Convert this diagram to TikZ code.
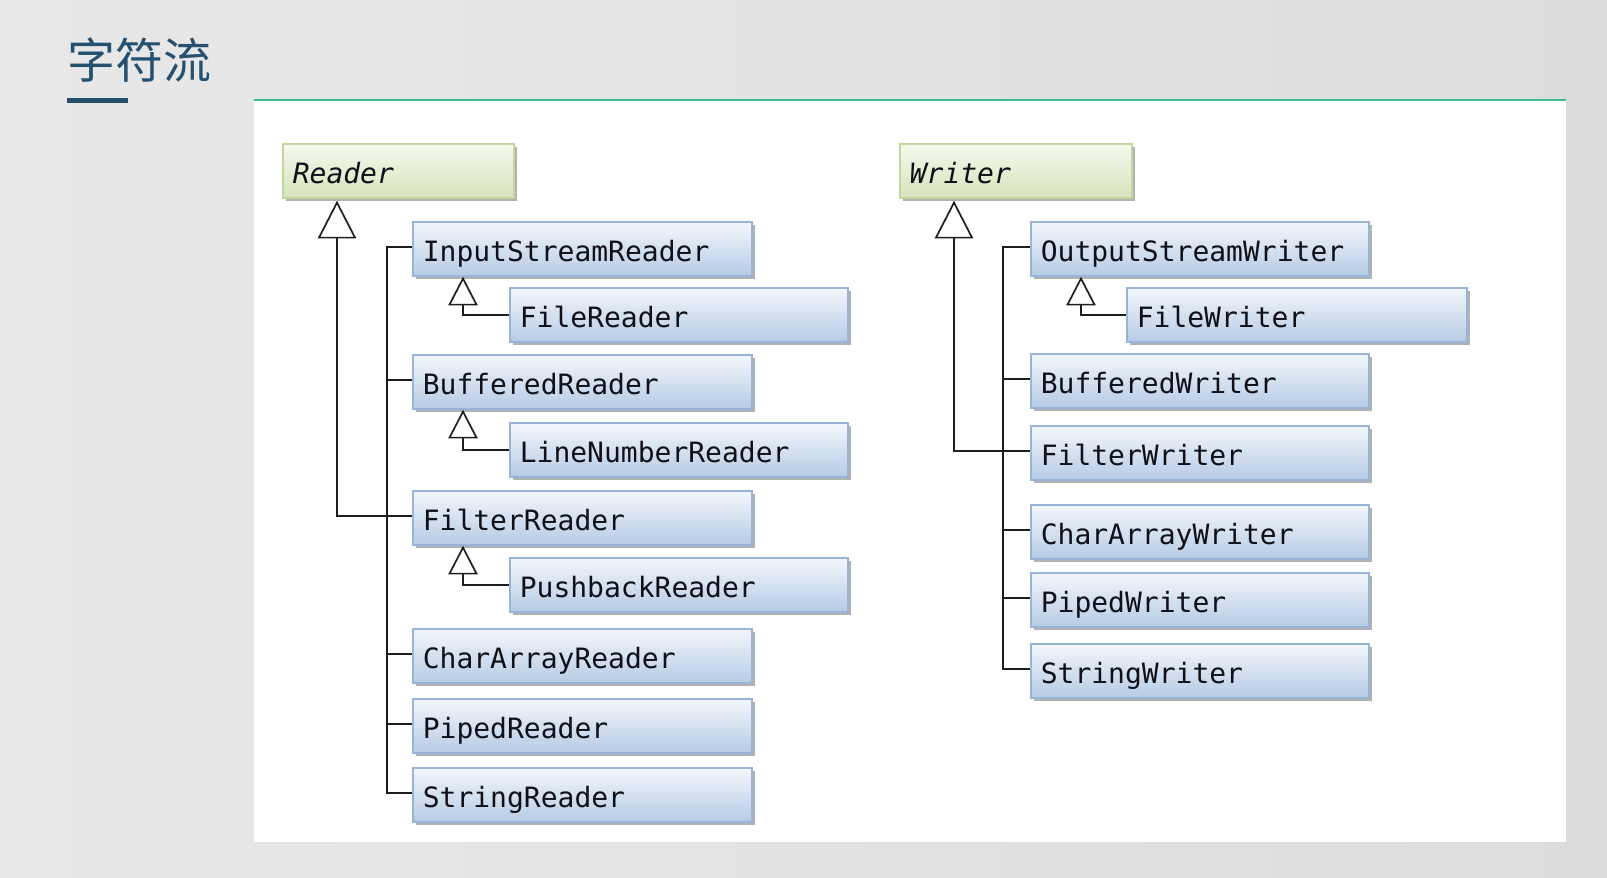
\documentclass[tikz,border=0pt]{standalone}
\usepackage{fontspec}
\newfontfamily\codefont{DejaVu Sans Mono}
\newfontfamily\cjk{Noto Sans CJK SC}
\usetikzlibrary{calc,shadows}
\definecolor{boxtop}{HTML}{F3F7FC}
\definecolor{boxbot}{HTML}{B6CBE4}
\definecolor{boxline}{HTML}{98B5D9}
\definecolor{grtop}{HTML}{F6F9EE}
\definecolor{grbot}{HTML}{D6E3BC}
\definecolor{grline}{HTML}{C3D69B}
\definecolor{titleblue}{HTML}{25506F}
\definecolor{accentteal}{HTML}{3DBB98}
\definecolor{bgl}{HTML}{E8E8E8}
\definecolor{bgr}{HTML}{DCDCDC}
\definecolor{linkcol}{HTML}{1E1E1E}
\definecolor{textcol}{HTML}{101018}
\begin{document}
\begin{tikzpicture}[x=0.5pt,y=-0.5pt,
  cls/.style={draw=boxline, line width=0.8pt, top color=boxtop, bottom color=boxbot,
    anchor=north west, minimum height=27pt, inner xsep=5pt, inner ysep=0pt,
    align=left, text height=13pt, text depth=0pt, text=textcol,
    font=\codefont\fontsize{14}{16}\selectfont,
    drop shadow={shadow xshift=1.8pt, shadow yshift=-1.8pt, fill=black!55, opacity=0.55}},
  abscls/.style={cls, draw=grline, top color=grtop, bottom color=grbot,
    font=\codefont\itshape\fontsize{14}{16}\selectfont},
  link/.style={draw=linkcol, line width=1.1pt},
  tri/.style={draw=linkcol, fill=white, line width=0.85pt, line join=miter},
]
\useasboundingbox (0,0) rectangle (1607,878);
% background
\fill[left color=bgl, right color=bgr] (0,0) rectangle (1607,878);
\fill[white] (254,101) rectangle (1566,842);
\draw[accentteal, line width=1pt] (254,100) -- (1566,100);
\node[font=\cjk\fontsize{24}{24}\selectfont, text=titleblue, inner sep=0pt] (title) at (140,60) {字符流};
\fill[titleblue] (67,98) rectangle (128,103);

% Reader hierarchy
\node[abscls, text width=105.5pt] (reader) at (282,143) {Reader};
\node[cls, text width=159.5pt] (isr) at (412,221) {InputStreamReader};
\node[cls, text width=159pt] (fr) at (509,287) {FileReader};
\node[cls, text width=159.5pt] (br) at (412,354) {BufferedReader};
\node[cls, text width=159pt] (lnr) at (509,422) {LineNumberReader};
\node[cls, text width=159.5pt] (filr) at (412,490) {FilterReader};
\node[cls, text width=159pt] (pbr) at (509,557) {PushbackReader};
\node[cls, text width=159.5pt] (car) at (412,628) {CharArrayReader};
\node[cls, text width=159.5pt] (pr) at (412,698) {PipedReader};
\node[cls, text width=159.5pt] (sr) at (412,767) {StringReader};

% Writer hierarchy
\node[abscls, text width=106pt] (writer) at (899,143) {Writer};
\node[cls, text width=159pt] (osw) at (1030,221) {OutputStreamWriter};
\node[cls, text width=160pt] (fw) at (1126,287) {FileWriter};
\node[cls, text width=159pt] (bw) at (1030,353) {BufferedWriter};
\node[cls, text width=159pt] (flw) at (1030,425) {FilterWriter};
\node[cls, text width=159pt] (caw) at (1030,504) {CharArrayWriter};
\node[cls, text width=159pt] (pw) at (1030,572) {PipedWriter};
\node[cls, text width=159pt] (sw) at (1030,643) {StringWriter};

% Reader connectors
\draw[link] ([yshift=1pt]isr.west) -- ++(-25,0) |- ([yshift=1pt]sr.west);
\foreach \n in {br,filr,car,pr}{\draw[link] ([yshift=1pt]\n.west) -- ++(-25,0);}
\coordinate (rtip) at ($(reader.south west)+(55,4)$);
\coordinate (rbase) at ($(rtip)+(0,35)$);
\draw[link] (rbase) |- ([yshift=1pt]filr.west);
\draw[tri] (rtip) -- ++(-18,35) -- ++(36,0) -- cycle;

\coordinate (t1) at ($(isr.south west)+(51,2)$);
\draw[link] ($(t1)+(0,26)$) |- (fr.west);
\draw[tri] (t1) -- ++(-13.5,26) -- ++(27,0) -- cycle;
\coordinate (t2) at ($(br.south west)+(51,2)$);
\draw[link] ($(t2)+(0,26)$) |- (lnr.west);
\draw[tri] (t2) -- ++(-13.5,26) -- ++(27,0) -- cycle;
\coordinate (t3) at ($(filr.south west)+(51,2)$);
\draw[link] ($(t3)+(0,26)$) |- (pbr.west);
\draw[tri] (t3) -- ++(-13.5,26) -- ++(27,0) -- cycle;

% Writer connectors
\draw[link] ([yshift=1pt]osw.west) -- ++(-27,0) |- ([yshift=1pt]sw.west);
\foreach \n in {bw,caw,pw}{\draw[link] ([yshift=1pt]\n.west) -- ++(-27,0);}
\coordinate (wtip) at ($(writer.south west)+(55,4)$);
\coordinate (wbase) at ($(wtip)+(0,35)$);
\draw[link] (wbase) |- ([yshift=1pt]flw.west);
\draw[tri] (wtip) -- ++(-18,35) -- ++(36,0) -- cycle;

\coordinate (t4) at ($(osw.south west)+(51,2)$);
\draw[link] ($(t4)+(0,26)$) |- (fw.west);
\draw[tri] (t4) -- ++(-13.5,26) -- ++(27,0) -- cycle;
\end{tikzpicture}
\end{document}
